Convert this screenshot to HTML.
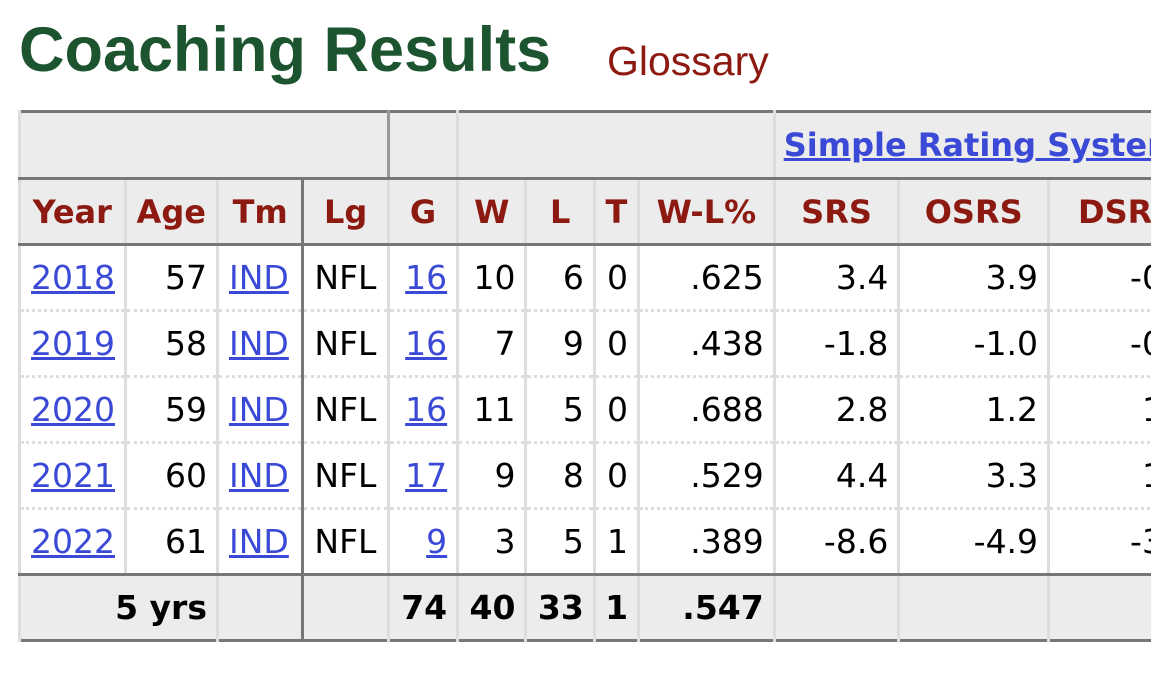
<!DOCTYPE html>
<html><head><meta charset="utf-8"><style>
body{margin:0;background:#fff;width:1170px;height:681px;overflow:hidden;position:relative}
.t{position:absolute;left:19px;top:14px;font:bold 63px "Liberation Sans",sans-serif;color:#1d5430;white-space:nowrap}
.g{position:absolute;left:607px;top:38px;font:41px "Liberation Sans",sans-serif;color:#8c1a11}
.wrap{position:absolute;left:18px;top:110px;width:1133px;height:540px;overflow:hidden}
table{border-collapse:collapse;table-layout:fixed;width:1300px;font:33px "DejaVu Sans",sans-serif;border-top:3px solid #777;border-bottom:3px solid #777;border-left:3px solid #777}
td,th{border-left:3px solid #ddd;padding:0 9px;white-space:nowrap;overflow:hidden}
th{background:#ececec;color:#8c1a11;font-weight:bold;text-align:center;height:63px;border-bottom:3px solid #777;font-size:32px}
tr.h1 th{height:64px}
td{height:63px;text-align:right;border-bottom:3px dotted #ddd}
td.l{text-align:left;padding-left:10px}
a{color:#3a49d6;text-decoration:underline}
.tk{border-left:3px solid #777}
tr.last td{border-bottom:3px solid #777}
tr.tot td{background:#ececec;font-weight:bold;border-bottom:none}
</style></head><body>
<div class="t">Coaching Results</div>
<div class="g">Glossary</div>
<div class="wrap"><table>
<colgroup><col style="width:105px"><col style="width:92px"><col style="width:85px"><col style="width:85px"><col style="width:69px"><col style="width:68px"><col style="width:68px"><col style="width:44px"><col style="width:135px"><col style="width:124px"><col style="width:149px"><col style="width:268px"></colgroup>
<tr class="h1"><th colspan="4" style="border-right:3px solid #999"></th><th style="border-left:3px solid #999"></th><th colspan="4"></th><th colspan="3" style="text-align:left;padding-left:8px"><a style="color:#3a49d6">Simple Rating System</a></th></tr>
<tr><th>Year</th><th>Age</th><th>Tm</th><th class="tk">Lg</th><th>G</th><th>W</th><th>L</th><th>T</th><th>W-L%</th><th>SRS</th><th>OSRS</th><th style="text-align:left;padding-left:28px">DSRS</th></tr>
<tr><td class="l"><a>2018</a></td><td>57</td><td class="l"><a>IND</a></td><td class="tk l">NFL</td><td><a>16</a></td><td>10</td><td>6</td><td>0</td><td>.625</td><td>3.4</td><td>3.9</td><td class="l" style="padding-left:80px">-0.5</td></tr>
<tr><td class="l"><a>2019</a></td><td>58</td><td class="l"><a>IND</a></td><td class="tk l">NFL</td><td><a>16</a></td><td>7</td><td>9</td><td>0</td><td>.438</td><td>-1.8</td><td>-1.0</td><td class="l" style="padding-left:80px">-0.8</td></tr>
<tr><td class="l"><a>2020</a></td><td>59</td><td class="l"><a>IND</a></td><td class="tk l">NFL</td><td><a>16</a></td><td>11</td><td>5</td><td>0</td><td>.688</td><td>2.8</td><td>1.2</td><td class="l" style="padding-left:92px">1.6</td></tr>
<tr><td class="l"><a>2021</a></td><td>60</td><td class="l"><a>IND</a></td><td class="tk l">NFL</td><td><a>17</a></td><td>9</td><td>8</td><td>0</td><td>.529</td><td>4.4</td><td>3.3</td><td class="l" style="padding-left:92px">1.1</td></tr>
<tr class="last"><td class="l"><a>2022</a></td><td>61</td><td class="l"><a>IND</a></td><td class="tk l">NFL</td><td><a>9</a></td><td>3</td><td>5</td><td>1</td><td>.389</td><td>-8.6</td><td>-4.9</td><td class="l" style="padding-left:80px">-3.7</td></tr>
<tr class="tot"><td colspan="2">5 yrs</td><td></td><td class="tk"></td><td>74</td><td>40</td><td>33</td><td>1</td><td>.547</td><td></td><td></td><td></td></tr>
</table></div>
</body></html>
